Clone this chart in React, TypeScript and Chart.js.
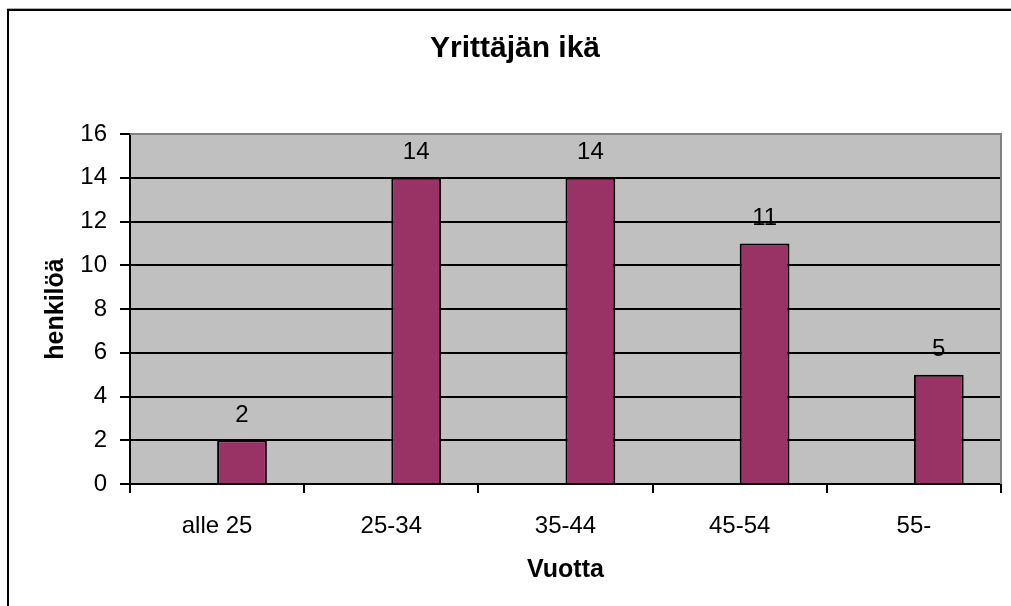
import React, { useEffect, useRef } from "react";
import { Chart, registerables } from "chart.js";

Chart.register(...registerables);

const categories = ["alle 25", "25-34", "35-44", "45-54", "55-"];
const values = [2, 14, 14, 11, 5];
const emptySeries = [null, null, null, null, null];
const titleText = "Yrittäjän ikä";
const yTitle = "henkilöä";
const xTitle = "Vuotta";

const FONT = "'Liberation Sans', Arial, sans-serif";

const decorPlugin = {
  id: "decor",
  beforeDraw(chart: any) {
    const { ctx, chartArea } = chart;
    ctx.save();
    ctx.fillStyle = "#ffffff";
    ctx.fillRect(0, 0, chart.width, chart.height);
    // outer frame
    ctx.strokeStyle = "#b0b0b0";
    ctx.lineWidth = 1;
    ctx.beginPath();
    ctx.moveTo(7, 8.5);
    ctx.lineTo(chart.width, 8.5);
    ctx.stroke();
    ctx.strokeStyle = "#000000";
    ctx.lineWidth = 2;
    ctx.beginPath();
    ctx.moveTo(8, chart.height + 2);
    ctx.lineTo(8, 10);
    ctx.lineTo(chart.width + 2, 10);
    ctx.stroke();
    // plot background
    ctx.fillStyle = "#c0c0c0";
    ctx.fillRect(chartArea.left, chartArea.top, chartArea.right - chartArea.left, chartArea.bottom - chartArea.top);
    ctx.restore();
  },
  afterDraw(chart: any) {
    const { ctx, chartArea } = chart;
    ctx.save();
    ctx.strokeStyle = "#808080";
    ctx.lineWidth = 2;
    ctx.beginPath();
    ctx.moveTo(chartArea.left, chartArea.top);
    ctx.lineTo(chartArea.right, chartArea.top);
    ctx.lineTo(chartArea.right, chartArea.bottom);
    ctx.stroke();
    // titles
    ctx.fillStyle = "#000000";
    ctx.textAlign = "center";
    ctx.textBaseline = "alphabetic";
    ctx.font = `bold 30px ${FONT}`;
    ctx.fillText(titleText, 515, 57);
    ctx.font = `bold 25px ${FONT}`;
    ctx.fillText(xTitle, (chartArea.left + chartArea.right) / 2, 577);
    ctx.translate(63, (chartArea.top + chartArea.bottom) / 2);
    ctx.rotate(-Math.PI / 2);
    ctx.fillText(yTitle, 0, 0);
    ctx.restore();
  },
  afterDatasetsDraw(chart: any) {
    const { ctx } = chart;
    const meta = chart.getDatasetMeta(1);
    ctx.save();
    ctx.fillStyle = "#000000";
    ctx.textAlign = "center";
    ctx.textBaseline = "alphabetic";
    ctx.font = `24px ${FONT}`;
    meta.data.forEach((el: any, i: number) => {
      ctx.fillText(String(values[i]), el.x, el.y - 18.5);
    });
    ctx.restore();
  },
};

export default function App() {
  const ref = useRef<HTMLCanvasElement | null>(null);
  useEffect(() => {
    if (!ref.current) return;
    const chart = new Chart(ref.current, {
      type: "bar",
      data: {
        labels: categories,
        datasets: [
          {
            data: emptySeries as any,
            backgroundColor: "#3366cc",
          },
          {
            data: values,
            backgroundColor: "#993366",
            borderColor: "#000000",
            borderWidth: 2,
          },
        ],
      },
      options: {
        responsive: false,
        animation: false,
        datasets: {
          bar: { categoryPercentage: 2 / 3.5, barPercentage: 1 },
        },
        layout: { padding: { left: 0, top: 134, right: 10, bottom: 0 } },
        plugins: { legend: { display: false }, title: { display: false }, tooltip: { enabled: false } },
        scales: {
          x: {
            offset: true,
            grid: {
              offset: true,
              drawOnChartArea: false,
              tickLength: 9,
              color: "#000000",
              lineWidth: 2,
            },
            border: { color: "#000000", width: 2 },
            ticks: {
              color: "#000000",
              font: { family: FONT, size: 24 },
              padding: 19,
              maxRotation: 0,
            },
            afterFit(scale: any) {
              scale.height = 122;
            },
          },
          y: {
            min: 0,
            max: 16,
            ticks: {
              stepSize: 2,
              color: "#000000",
              font: { family: FONT, size: 24 },
              padding: 13,
            },
            grid: {
              color: (c: any) => (c.tick && c.tick.value === 16 ? "rgba(0,0,0,0)" : "#000000"),
              tickColor: "#000000",
              lineWidth: 2,
              tickLength: 10,
            },
            border: { color: "#000000", width: 2 },
            afterFit(scale: any) {
              scale.width = 130;
            },
          },
        },
      },
      plugins: [decorPlugin],
    });
    return () => chart.destroy();
  }, []);
  return (
    <div style={{ position: "fixed", left: 0, top: 0, width: 1011, height: 606, background: "#fff" }}>
      <canvas ref={ref} width={1011} height={606} style={{ width: 1011, height: 606, display: "block" }} />
    </div>
  );
}
